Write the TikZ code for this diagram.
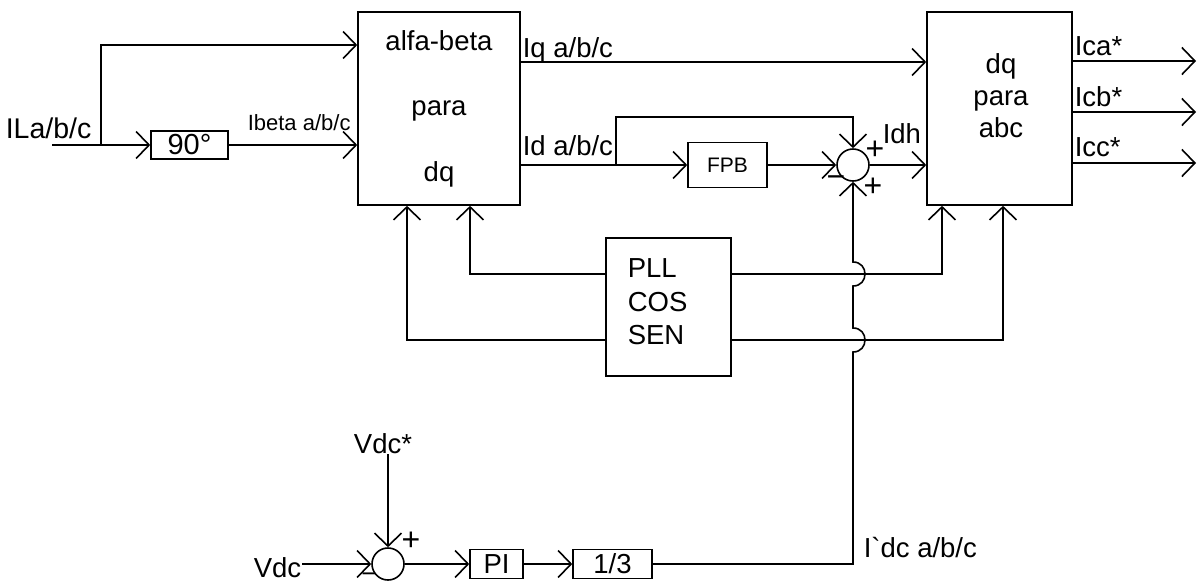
\documentclass[tikz,border=0pt]{standalone}
\usepackage{fontspec}
\setmainfont{Liberation Sans}
\usetikzlibrary{arrows.meta}
\begin{document}
\begin{tikzpicture}[x=1pt,y=-1pt, line width=1.6pt,
  arr/.style={-{Straight Barb[length=13pt,width=27pt,line width=1.6pt]}},
  blk/.style={draw, rectangle, inner sep=0pt},
  sumc/.style={draw, circle, minimum size=32pt, inner sep=0pt},
  txt/.style={inner sep=0pt, font=\fontsize{27.5}{30}\selectfont},
  small/.style={inner sep=0pt, font=\fontsize{22}{24}\selectfont},
  sgn/.style={inner sep=0pt, font=\fontsize{32}{32}\selectfont}]
\useasboundingbox (0,0) rectangle (1198,582);
% blocks
\node[blk, minimum width=162pt, minimum height=193pt] (ab) at (439,108.5) {};
\node[txt, anchor=base] (ab1) at (439,50) {alfa-beta};
\node[txt, anchor=base] (ab2) at (439,115) {para};
\node[txt, anchor=base] (ab3) at (439,181) {dq};
\node[blk, minimum width=145pt, minimum height=193pt] (dqabc) at (999.5,108.5) {};
\node[txt, anchor=base] (dq1) at (1001,73) {dq};
\node[txt, anchor=base] (dq2) at (1001,105) {para};
\node[txt, anchor=base] (dq3) at (1001,137) {abc};
\node[blk, minimum width=125pt, minimum height=138pt] (pll) at (668.5,307) {};
\node[txt, anchor=base west] (pll1) at (627,277) {PLL};
\node[txt, anchor=base west] (pll2) at (627,311) {COS};
\node[txt, anchor=base west] (pll3) at (627,344) {SEN};
\node[blk, minimum width=77pt, minimum height=28pt, inner sep=0pt, font=\fontsize{29}{30}\selectfont] (nin) at (189.5,145) {90°};
\node[blk, minimum width=79pt, minimum height=45pt, inner sep=0pt, font=\fontsize{21}{24}\selectfont] (fpb) at (727.5,165) {FPB};
\node[blk, minimum width=53pt, minimum height=29pt, txt] (pi) at (496.5,564) {PI};
\node[blk, minimum width=79pt, minimum height=29pt, txt] (third) at (612.5,564) {1/3};
\node[sumc] (sum1) at (853,165) {};
\node[sumc] (sum2) at (388,564) {};
% labels
\node[inner sep=0pt, font=\fontsize{28.5}{30}\selectfont, anchor=base west] (lil) at (5,138) {ILa/b/c};
\node[small, anchor=base west] (lbeta) at (247,130) {Ibeta a/b/c};
\node[txt, anchor=base west] (liq) at (522,57) {Iq a/b/c};
\node[txt, anchor=base west] (lid) at (522,155) {Id a/b/c};
\node[txt, anchor=base west] (lidh) at (882,143) {Idh};
\node[txt, anchor=base west] (lica) at (1074,55) {Ica*};
\node[txt, anchor=base west] (licb) at (1074,106) {Icb*};
\node[txt, anchor=base west] (licc) at (1074,156) {Icc*};
\node[txt, anchor=base west] (lidc) at (863,557) {I\textasciigrave dc a/b/c};
\node[txt, anchor=base] (vdcs) at (383,453) {Vdc*};
\node[txt, anchor=base east] (vdc) at (302,577) {Vdc};
% signs
\node[sgn] (s1) at (875,150) {+};
\node[sgn] (s2) at (873,187) {+};
\node[sgn] (s3) at (836,182) {−};
\node[sgn] (s4) at (411,541) {+};
\node[inner sep=0pt, font=\fontsize{26}{26}\selectfont] (s5) at (369,578) {−};
% coordinates
\coordinate (in0) at (52,145);
\coordinate (br) at (101,145);
\coordinate (y45) at (0,45);
\coordinate (iq) at (0,62);
\coordinate (idbr) at (616,165);
\coordinate (t117) at (0,117);
\coordinate (o1) at (1196,61);
\coordinate (o2) at (1196,112);
\coordinate (o3) at (1196,163);
\coordinate (p1) at (0,274);
\coordinate (p2) at (0,340);
\coordinate (xa) at (470,0);
\coordinate (xb) at (407,0);
\coordinate (xc) at (942,0);
\coordinate (xd) at (1003,0);
\coordinate (xv) at (388,0);
% connectors
\draw[arr] (br) |- (ab.west |- y45);
\draw[arr] (in0) -- (nin.west);
\draw[arr] (nin.east) -- (ab.west |- nin.east);
\draw[arr] (ab.east |- iq) -- (dqabc.west |- iq);
\draw[arr] (ab.east |- fpb.west) -- (fpb.west);
\draw[arr] (idbr) |- (sum1.north |- t117) -- (sum1.north);
\draw[arr] (fpb.east) -- (sum1.west);
\draw[arr] (sum1.east) -- (dqabc.west |- sum1.east);
\draw[arr] (dqabc.east |- o1) -- (o1);
\draw[arr] (dqabc.east |- o2) -- (o2);
\draw[arr] (dqabc.east |- o3) -- (o3);
\draw[arr] (pll.west |- p1) -| (ab.south -| xa);
\draw[arr] (pll.west |- p2) -| (ab.south -| xb);
\draw[arr] (pll.east |- p1) -| (dqabc.south -| xc);
\draw[arr] (pll.east |- p2) -| (dqabc.south -| xd);
\draw[arr] (vdcs.south -| xv) -- (sum2.north);
\draw[arr] (vdc.east |- sum2.west) -- (sum2.west);
\draw[arr] (sum2.east) -- (pi.west);
\draw[arr] (pi.east) -- (third.west);
\draw[arr] (third.east) -- (853,564) -- (853,352)
  .. controls (869,352) and (869,328) .. (853,328) -- (853,286)
  .. controls (869,286) and (869,262) .. (853,262) -- (sum1.south);
\end{tikzpicture}
\end{document}
